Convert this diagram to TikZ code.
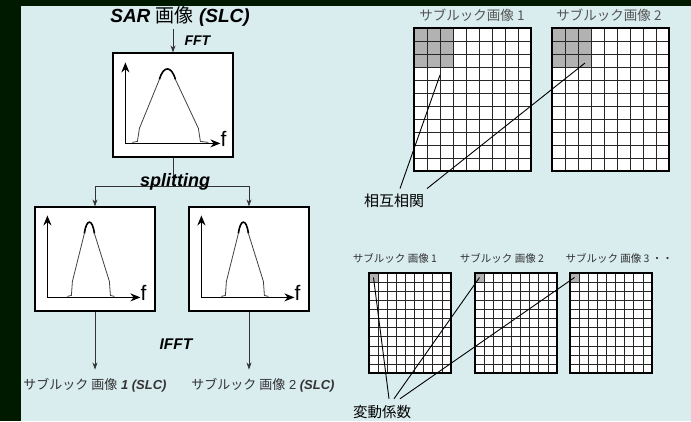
\documentclass[tikz,border=0pt]{standalone}
\usepackage{fontspec}
\setmainfont{Liberation Sans}
\newfontfamily\jp{Noto Sans CJK JP}
\usetikzlibrary{arrows.meta}

\definecolor{bgpale}{RGB}{217,236,238}
\definecolor{bgdark}{RGB}{0,26,0}
\definecolor{cellshade}{RGB}{178,178,178}
\definecolor{lblgray}{RGB}{85,85,85}

\tikzset{
  specbox/.style={draw, line width=1.2pt, fill=white, minimum width=120pt,
    minimum height=104pt, inner sep=0pt},
  axis/.style={line width=1.4pt, -{Stealth[length=10pt,width=8pt]}},
  conn/.style={line width=0.8pt, draw=black!80, -{Stealth[length=7pt,width=5pt]}},
  pointer/.style={line width=0.9pt},
  cell/.style={line width=0.6pt, draw=black!85},
  curve/.style={line width=0.8pt, draw=black!75},
}

\begin{document}
\begin{tikzpicture}[x=1pt,y=-1pt]
    % Background
    \fill[bgdark] (0,0) rectangle (691,421);
    \fill[bgpale] (21,6) rectangle (691,421);
    \useasboundingbox (0,0) rectangle (691,421);

    % Spectrum boxes
    \node[specbox] (spec) at (173,105) {};
    \node[specbox] (specA) at (95,259) {};
    \node[specbox] (specB) at (249,259) {};

    % Full spectrum
    \begin{scope}[shift={(spec.north west)}]
        \draw[axis] (13,91) -- (13,10);
        \draw[axis] (13,91) -- (108,91);
        \node[anchor=base west, inner sep=0pt, font=\fontsize{21}{21}\selectfont] (specf) at (108,94) {f};
        \draw[curve] (20,90) -- (25,89) -- (27,76) -- (47,27);
        \draw[curve] (63,27) -- (86,76) -- (88,89) -- (96,90);
        \draw[line width=1.6pt] (47,27) .. controls (51,13) and (59,13) .. (63,27);
    \end{scope}

    % Split spectra
    \foreach \spc in {specA,specB} {
        \begin{scope}[shift={(\spc.north west)}]
            \draw[axis] (13,91) -- (13,9);
            \draw[axis] (13,91) -- (106,91);
            \node[anchor=base west, inner sep=0pt, font=\fontsize{21}{21}\selectfont] (\spc f) at (106,94) {f};
            \draw[curve] (33,90) -- (37,89) -- (38,75) -- (50,27);
            \draw[curve] (60,27) -- (75,75) -- (76,89) -- (80,90);
            \draw[line width=1.6pt] (50,27) .. controls (52,12) and (58,12) .. (60,27);
        \end{scope}
    }

    % Left flow
    \node[font=\fontsize{19}{19}\selectfont] (title) at (180,16)
        {\bfseries\itshape SAR {\normalfont\jp 画像} (SLC)};
    \draw[conn] (title.south -| spec.north) -- (spec.north);
    \node[anchor=west, font=\fontsize{14}{14}\selectfont\bfseries\itshape] (fft) at (181,41) {FFT};

    \coordinate (split) at (173,186);
    \draw[line width=0.8pt, draw=black!80] (spec.south) -- (split);
    \draw[conn] (split) -| (specA.north);
    \draw[conn] (split) -| (specB.north);
    \node[anchor=base, font=\fontsize{18}{18}\selectfont\bfseries\itshape] (splitlbl) at (175,186) {splitting};

    \node[text=black!80, font=\fontsize{13}{13}\selectfont] (outA) at (95,385)
        {{\jp サブルック 画像} {\bfseries\itshape 1 (SLC)}};
    \node[text=black!80, font=\fontsize{13}{13}\selectfont] (outB) at (263,385)
        {{\jp サブルック 画像} 2 {\bfseries\itshape (SLC)}};
    \draw[conn, shorten >=5pt] (specA.south) -- (outA.north -| specA.south);
    \draw[conn, shorten >=5pt] (specB.south) -- (outB.north -| specB.south);
    \node[font=\fontsize{15.5}{15.5}\selectfont\bfseries\itshape] (ifft) at (176,344) {IFFT};

    % Cross-correlation grids
    \foreach \gx in {414,552} {
        \fill[white] (\gx,28) rectangle ++(117,143);
        \fill[cellshade] (\gx,28) rectangle ++(39,39);
        \foreach \i in {1,...,8} \draw[cell] (\gx+\i*13,28) -- ++(0,143);
        \foreach \j in {1,...,10} \draw[cell] (\gx,28+\j*13) -- ++(117,0);
        \draw[line width=1.8pt] (\gx,28) rectangle ++(117,143);
    }
    \node[text=lblgray, font=\fontsize{13.5}{13.5}\selectfont\jp] (subA) at (472,15) {サブルック画像 1};
    \node[text=lblgray, font=\fontsize{13.5}{13.5}\selectfont\jp] (subB) at (609,15) {サブルック画像 2};

    \node[font=\fontsize{15}{15}\selectfont\jp] (xcorr) at (394,201) {相互相関};
    \coordinate (winA) at (440,75);
    \coordinate (winB) at (585,63);
    \draw[pointer] ([xshift=6pt,yshift=2pt]xcorr.north) -- (winA);
    \draw[pointer] ([xshift=33pt,yshift=2pt]xcorr.north) -- (winB);

    % Coefficient of variation grids
    \foreach \gx in {369,475,570} {
        \fill[white] (\gx,273) rectangle ++(82,100);
        \fill[cellshade] (\gx,273) rectangle ++(9.1,9.1);
        \foreach \i in {1,...,8} \draw[cell, line width=0.5pt] (\gx+\i*9.1,273) -- ++(0,100);
        \foreach \j in {1,...,10} \draw[cell, line width=0.5pt] (\gx,273+\j*9.1) -- ++(82,0);
        \draw[line width=1.5pt] (\gx,273) rectangle ++(82,100);
    }
    \node[text=black!80, font=\fontsize{10.5}{10.5}\selectfont\jp] (subC1) at (395,258) {サブルック 画像 1};
    \node[text=black!80, font=\fontsize{10.5}{10.5}\selectfont\jp] (subC2) at (502,258) {サブルック 画像 2};
    \node[anchor=west, text=black!80, font=\fontsize{10.5}{10.5}\selectfont\jp] (subC3) at (562,258) {サブルック 画像 3 ・・};

    \node[font=\fontsize{14.5}{14.5}\selectfont\jp] (cv) at (382,412) {変動係数};
    \coordinate (pixA) at (373.5,277.5);
    \coordinate (pixB) at (479.5,277.5);
    \coordinate (pixC) at (574.5,277.5);
    \draw[pointer] ([xshift=7pt,yshift=3pt]cv.north) -- (pixA);
    \draw[pointer] ([xshift=12pt,yshift=3pt]cv.north) -- (pixB);
    \draw[pointer] ([xshift=18pt,yshift=3pt]cv.north) -- (pixC);
\end{tikzpicture}
\end{document}
